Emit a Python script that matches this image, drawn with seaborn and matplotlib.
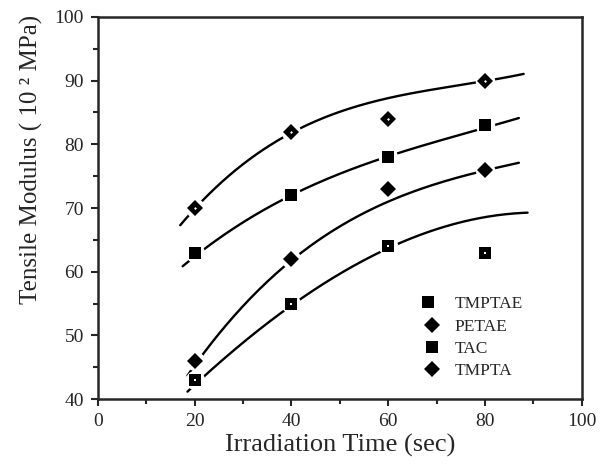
import numpy as np
import pandas as pd
import matplotlib
matplotlib.use('Agg')
import matplotlib.pyplot as plt
import seaborn as sns
from matplotlib.lines import Line2D
from matplotlib.legend_handler import HandlerTuple
from matplotlib.ticker import MultipleLocator

sns.set_style('ticks')
plt.rcParams['font.family'] = ['Liberation Serif', 'DejaVu Serif']

# measured points (irradiation time in sec, modulus in 10^2 MPa)
time_sec = [20, 40, 60, 80]
tmptae = [43, 55, 64, 63]
petae = [70, 82, 84, 90]
tac = [63, 72, 78, 83]
tmpta = [46, 62, 73, 76]

# hand-drawn trend curves
petae_curve_x = [17, 20, 40, 60, 80, 88]
petae_curve_y = [67.2, 70, 81.8, 87.2, 90, 91]
tac_curve_x = [17.5, 20, 40, 60, 80, 87]
tac_curve_y = [60.6, 62.7, 72, 78, 82.8, 84]
tmpta_curve_x = [18.5, 20, 40, 60, 80, 87]
tmpta_curve_y = [43.3, 45.8, 61.6, 71.2, 75.7, 77.2]
tmptae_curve_x = [18.5, 20, 40, 60, 80, 88.8]
tmptae_curve_y = [40.8, 42.7, 54.6, 63.8, 68.5, 69.3]

legend_labels = ['TMPTAE', 'PETAE', 'TAC', 'TMPTA']

fig = plt.figure(figsize=(6.01, 4.68), dpi=100)
ax = fig.add_axes([0.163, 0.147, 0.805, 0.817])

curves = [(petae_curve_x, petae_curve_y), (tac_curve_x, tac_curve_y),
          (tmpta_curve_x, tmpta_curve_y), (tmptae_curve_x, tmptae_curve_y)]
for cx, cy in curves:
    coef = np.polyfit(cx, cy, 3)
    xx = np.linspace(cx[0], cx[-1], 200)
    sns.lineplot(x=xx, y=np.polyval(coef, xx), color='black', lw=1.7, ax=ax, zorder=2)

series = [
    (tmptae, 's', 8.0, True),
    (petae, 'D', 8.0, True),
    (tac, 's', 8.3, False),
    (tmpta, 'D', 8.0, False),
]
for vals, mk, ms, hollow in series:
    df = pd.DataFrame({'t': time_sec, 'v': vals})
    # white halo that breaks the curve around each marker
    ax.plot(df['t'], df['v'], ls='none', marker='o', ms=14, color='white', mew=0, zorder=3)
    ax.plot(df['t'], df['v'], ls='none', marker=mk, ms=ms, color='black', mew=0, zorder=4)
    if hollow:
        ax.plot(df['t'], df['v'], ls='none', marker=mk, ms=1.5, color='white', mew=0, zorder=5)

ax.set_xlim(0, 100)
ax.set_ylim(40, 100)
ax.xaxis.set_major_locator(MultipleLocator(20))
ax.xaxis.set_minor_locator(MultipleLocator(10))
ax.yaxis.set_major_locator(MultipleLocator(10))
ax.yaxis.set_minor_locator(MultipleLocator(5))
ax.tick_params(which='major', length=5, width=1.5, labelsize=14, pad=5, direction='out')
ax.tick_params(which='minor', length=3.5, width=1.5, direction='out')
for sp in ax.spines.values():
    sp.set_linewidth(1.8)
    sp.set_visible(True)

ax.set_xlabel('Irradiation Time (sec)', fontsize=19, labelpad=3)
ax.set_ylabel('Tensile Modulus ( 10 ² MPa)', fontsize=18)
ax.yaxis.set_label_coords(-0.114, 0.626)

h_tmptae = (Line2D([], [], ls='none', marker='s', ms=8, color='black', mew=0),
            Line2D([], [], ls='none', marker='s', ms=1.5, color='white', mew=0))
h_petae = Line2D([], [], ls='none', marker='D', ms=8, color='black', mew=0)
h_tac = Line2D([], [], ls='none', marker='s', ms=8.3, color='black', mew=0)
h_tmpta = Line2D([], [], ls='none', marker='D', ms=8, color='black', mew=0)
ax.legend([h_tmptae, h_petae, h_tac, h_tmpta], legend_labels,
          handler_map={tuple: HandlerTuple(ndivide=None, pad=0)},
          loc='upper left', bbox_to_anchor=(0.64, 0.31), frameon=False,
          fontsize=12.5, handlelength=1.0, handletextpad=0.8, labelspacing=0.35)

fig.savefig('out.png', dpi=100)
